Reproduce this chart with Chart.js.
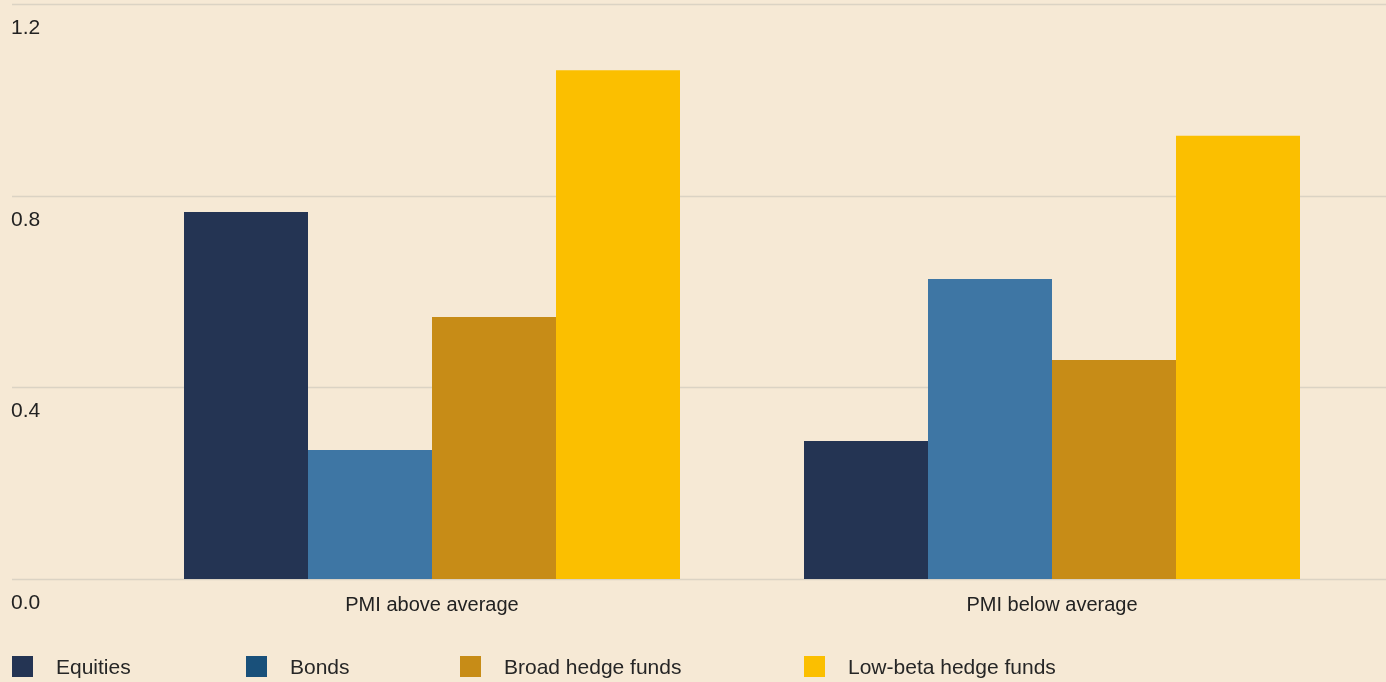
<!DOCTYPE html>
<html>
<head>
<meta charset="utf-8">
<script src="https://cdn.jsdelivr.net/npm/chart.js@4/dist/chart.umd.min.js"></script>
<style>
  html, body { margin: 0; padding: 0; background: #f6e9d5; }
  #wrap { position: relative; width: 1386px; height: 682px; overflow: hidden; }
  #c { position: absolute; left: 0; top: 0; }
  .leg { position: absolute; top: 656px; height: 21px; display: flex; align-items: center;
         font-family: "Liberation Sans", Arial, sans-serif; font-size: 21px; color: #262626; white-space: nowrap; }
  .leg span.sw { display: inline-block; width: 21px; height: 21px; margin-right: 23px; }
</style>
</head>
<body>
<div id="wrap">
  <canvas id="c" width="1386" height="682"></canvas>
</div>
<script>
const categories = ['PMI above average', 'PMI below average'];
const seriesNames = ['Equities', 'Bonds', 'Broad hedge funds', 'Low-beta hedge funds'];
const equities = [0.766, 0.288];
const bonds = [0.269, 0.626];
const broadHedgeFunds = [0.547, 0.457];
const lowBetaHedgeFunds = [1.062, 0.925];
const yTicks = [0.0, 0.4, 0.8, 1.2];

const barColors = ['#243453', '#3e76a4', '#c78c17', '#fbbf00'];
const legendColors = ['#243453', '#19507a', '#c78c17', '#fbbf00'];
const legendLeft = [12, 246, 460, 804];

const FONT = '"Liberation Sans", Arial, sans-serif';

const gridPlugin = {
  id: 'fullGrid',
  beforeDatasetsDraw(chart) {
    const ctx = chart.ctx;
    const y = chart.scales.y;
    ctx.save();
    ctx.strokeStyle = '#dbd3c4';
    ctx.lineWidth = 1.5;
    ctx.fillStyle = '#222222';
    ctx.font = '21px ' + FONT;
    ctx.textAlign = 'left';
    ctx.textBaseline = 'middle';
    y.ticks.forEach(t => {
      const py = Math.round(y.getPixelForValue(t.value)) + 0.5;
      ctx.beginPath();
      ctx.moveTo(12, py);
      ctx.lineTo(chart.width, py);
      ctx.stroke();
      ctx.fillText(t.value.toFixed(1), 11, py + 24);
    });
    ctx.restore();
  }
};

const datasets = [equities, bonds, broadHedgeFunds, lowBetaHedgeFunds].map((d, i) => ({
  label: seriesNames[i],
  data: d,
  backgroundColor: barColors[i],
  borderWidth: 0,
  barPercentage: 1.0,
  categoryPercentage: 0.8
}));

new Chart(document.getElementById('c'), {
  type: 'bar',
  data: { labels: categories, datasets },
  options: {
    responsive: false,
    animation: false,
    layout: { padding: { left: 122, right: 24, top: 4, bottom: 51 } },
    plugins: { legend: { display: false }, tooltip: { enabled: false } },
    scales: {
      x: {
        grid: { display: false, drawTicks: false },
        border: { display: false },
        ticks: { color: '#222222', font: { family: FONT, size: 20 }, padding: 14 }
      },
      y: {
        display: false,
        min: 0, max: 1.2,
        afterBuildTicks(scale) { scale.ticks = yTicks.map(v => ({ value: v })); }
      }
    }
  },
  plugins: [gridPlugin]
});

const wrap = document.getElementById('wrap');
seriesNames.forEach((n, i) => {
  const d = document.createElement('div');
  d.className = 'leg';
  d.style.left = legendLeft[i] + 'px';
  const sw = document.createElement('span');
  sw.className = 'sw';
  sw.style.background = legendColors[i];
  d.appendChild(sw);
  d.appendChild(document.createTextNode(n));
  wrap.appendChild(d);
});
</script>
</body>
</html>
